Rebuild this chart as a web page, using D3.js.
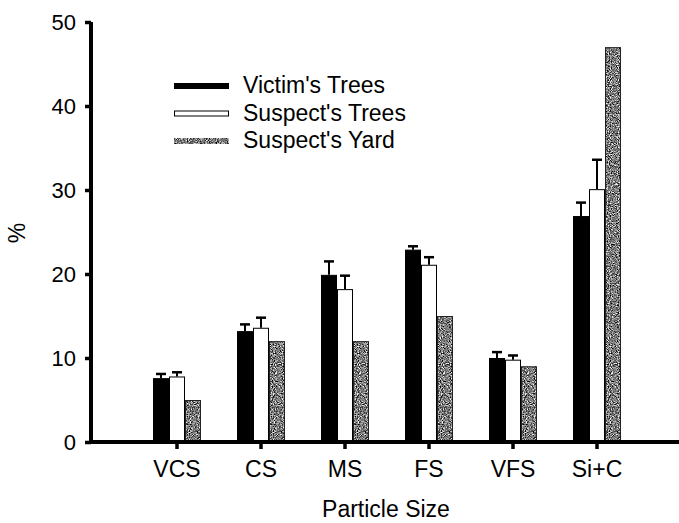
<!DOCTYPE html>
<html>
<head>
<meta charset="utf-8">
<script src="https://cdn.jsdelivr.net/npm/d3@7"></script>
<style>
  body { margin: 0; background: #fff; }
  svg { display: block; font-family: "Liberation Sans", Arial, sans-serif; }
</style>
</head>
<body>
<svg id="chart" width="679" height="523"></svg>
<script>
// particle size classes and the three sample series (mean %, mean + error)
const categories = ['VCS', 'CS', 'MS', 'FS', 'VFS', 'Si+C'];
const seriesNames = ["Victim's Trees", "Suspect's Trees", "Suspect's Yard"];
const victimTrees = [7.6, 13.2, 19.9, 22.9, 10.0, 26.9];
const victimErr   = [8.1, 14.0, 21.5, 23.3, 10.7, 28.5];
const suspectTrees = [7.8, 13.6, 18.2, 21.1, 9.8, 30.1];
const suspectErr   = [8.3, 14.8, 19.8, 22.0, 10.3, 33.6];
const suspectYard  = [5.0, 12.0, 12.0, 15.0, 9.0, 47.0];
const yTicks = [0, 10, 20, 30, 40, 50];

const svg = d3.select('#chart');

// speckled grey fill like the scanned original
const defs = svg.append('defs');
const f = defs.append('filter').attr('id', 'grain')
  .attr('x', 0).attr('y', 0).attr('width', 1).attr('height', 1)
  .attr('color-interpolation-filters', 'sRGB');
f.append('feTurbulence').attr('type', 'fractalNoise')
  .attr('baseFrequency', 0.9).attr('numOctaves', 2).attr('seed', 7).attr('result', 'n');
f.append('feColorMatrix').attr('in', 'n').attr('type', 'matrix')
  .attr('values', '0.33 0.33 0.33 0 0  0.33 0.33 0.33 0 0  0.33 0.33 0.33 0 0  0 0 0 0 1')
  .attr('result', 'g');
const ct = f.append('feComponentTransfer').attr('in', 'g').attr('result', 'c');
['feFuncR', 'feFuncG', 'feFuncB'].forEach(k =>
  ct.append(k).attr('type', 'linear').attr('slope', 3.5).attr('intercept', -1.25));
f.append('feComposite').attr('in', 'c').attr('in2', 'SourceGraphic').attr('operator', 'in');

const y = d3.scaleLinear().domain([0, 50]).range([442, 22]);
const x0 = d3.scaleBand().domain(categories).range([135, 639]);
const x1 = d3.scaleBand().domain(seriesNames).range([18, 66]);

const rows = categories.map((c, i) => ({
  cat: c,
  bars: [
    { s: seriesNames[0], v: victimTrees[i], e: victimErr[i] },
    { s: seriesNames[1], v: suspectTrees[i], e: suspectErr[i] },
    { s: seriesNames[2], v: suspectYard[i], e: null }
  ]
}));

const groups = svg.append('g').selectAll('g').data(rows).enter().append('g')
  .attr('transform', d => `translate(${x0(d.cat)},0)`);

// error bars first, bars drawn over their base
groups.selectAll('.err').data(d => d.bars.filter(b => b.e != null)).enter().append('g')
  .each(function(b) {
    const g = d3.select(this);
    const cx = x1(b.s) + x1.bandwidth() / 2;
    g.append('line').attr('x1', cx).attr('x2', cx)
      .attr('y1', y(b.v)).attr('y2', y(b.e))
      .attr('stroke', '#000').attr('stroke-width', 2);
    g.append('line').attr('x1', cx - 5).attr('x2', cx + 5)
      .attr('y1', y(b.e)).attr('y2', y(b.e))
      .attr('stroke', '#000').attr('stroke-width', 2.5);
  });

groups.selectAll('.bar').data(d => d.bars).enter().append('g')
  .each(function(b, i) {
    const g = d3.select(this);
    const bx = x1(b.s), bw = x1.bandwidth();
    if (i === 2) {
      g.append('rect').attr('x', bx).attr('y', y(b.v))
        .attr('width', bw).attr('height', y(0) - y(b.v))
        .attr('fill', '#888').attr('filter', 'url(#grain)');
      g.append('rect').attr('x', bx + 0.5).attr('y', y(b.v) + 0.5)
        .attr('width', bw - 1).attr('height', y(0) - y(b.v))
        .attr('fill', 'none').attr('stroke', '#222').attr('stroke-width', 1);
    } else {
      g.append('rect').attr('x', bx + 0.5).attr('y', y(b.v) + 0.5)
        .attr('width', bw - 1).attr('height', y(0) - y(b.v))
        .attr('fill', i === 0 ? '#000' : '#fff')
        .attr('stroke', '#000').attr('stroke-width', 1);
    }
  });

// y axis
const yAxis = svg.append('g').attr('transform', 'translate(91,0)')
  .call(d3.axisLeft(y).tickValues(yTicks).tickSize(6).tickPadding(9));
yAxis.select('.domain').attr('d', `M0,${y(50)}V${y(0) + 2}`)
  .attr('stroke-width', 4);
yAxis.selectAll('.tick line').attr('stroke-width', 3.5);
yAxis.selectAll('.tick text').attr('font-size', 22).attr('fill', '#000')
  .attr('font-family', '"Liberation Sans", Arial, sans-serif');

// x axis
const xAxis = svg.append('g').attr('transform', `translate(0,${y(0)})`)
  .call(d3.axisBottom(x0).tickSize(7).tickPadding(12));
xAxis.select('.domain').attr('d', 'M89,0H679').attr('stroke-width', 4);
xAxis.selectAll('.tick line').attr('stroke-width', 3.5);
xAxis.selectAll('.tick text').attr('font-size', 23).attr('fill', '#000')
  .attr('font-family', '"Liberation Sans", Arial, sans-serif');

// axis titles
svg.append('text').attr('x', 386).attr('y', 517).attr('text-anchor', 'middle')
  .attr('font-size', 23).text('Particle Size');
svg.append('text').attr('transform', 'translate(25,233) rotate(-90)')
  .attr('text-anchor', 'middle').attr('font-size', 23).text('%');

// legend
const legend = svg.append('g').attr('transform', 'translate(174,86)');
seriesNames.forEach((name, i) => {
  const row = legend.append('g').attr('transform', `translate(0,${i * 27.5})`);
  if (i === 0) {
    row.append('rect').attr('x', 0).attr('y', -3).attr('width', 55).attr('height', 6).attr('fill', '#000');
  } else if (i === 1) {
    row.append('rect').attr('x', 0.5).attr('y', -2.5).attr('width', 54).attr('height', 5)
      .attr('fill', '#fff').attr('stroke', '#000').attr('stroke-width', 1);
  } else {
    row.append('rect').attr('x', 0).attr('y', -3).attr('width', 55).attr('height', 6)
      .attr('fill', '#888').attr('filter', 'url(#grain)');
  }
  row.append('text').attr('x', 69).attr('y', 7).attr('font-size', 23).text(name);
});
</script>
</body>
</html>
